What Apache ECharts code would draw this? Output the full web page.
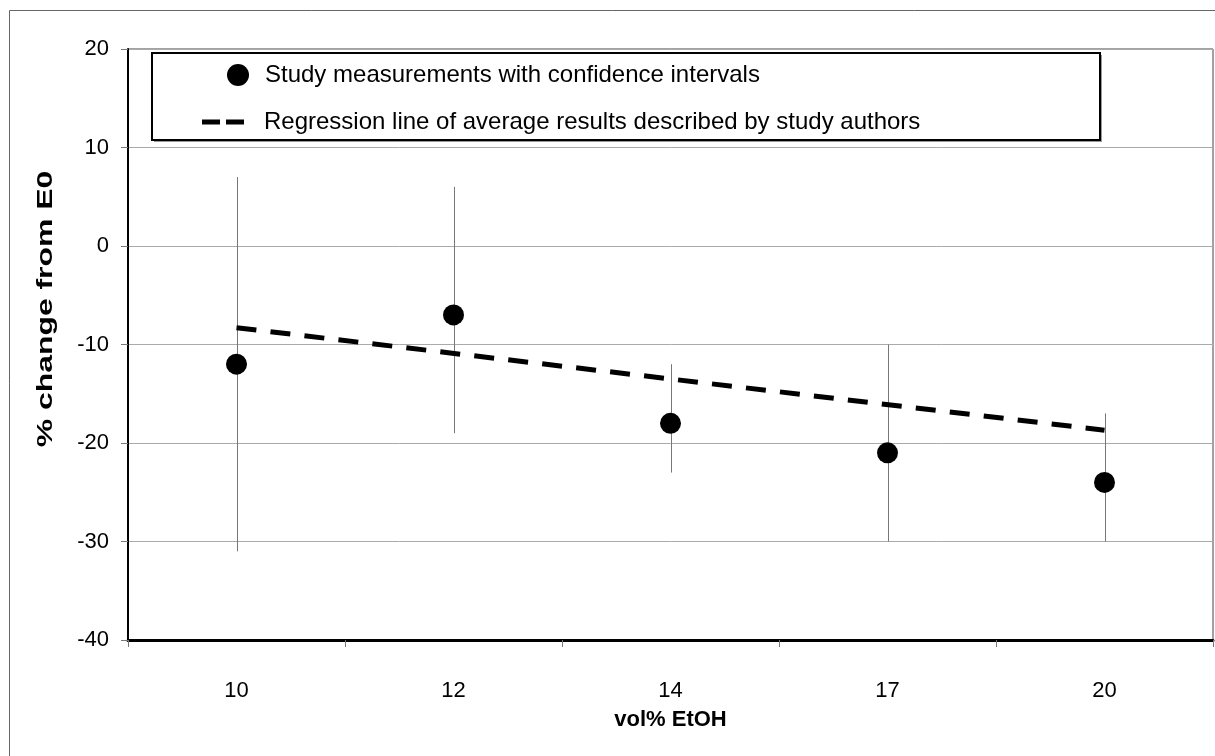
<!DOCTYPE html>
<html><head><meta charset="utf-8">
<script src="https://cdn.jsdelivr.net/npm/echarts@6/dist/echarts.min.js"></script>
<style>html,body{margin:0;padding:0;background:#fff}#c{width:1215px;height:756px}</style>
</head><body><div id="c"></div>
<script>
const categories = ['10', '12', '14', '17', '20'];
const measured = [-12, -7, -18, -21, -24];
const ciLow = [-31, -19, -23, -30, -30];
const ciHigh = [7, 6, -12, -10, -17];
const regressionStart = -8.3;
const regressionEnd = -18.7;
const yTicks = { min: -40, max: 20, interval: 10 };
const seriesNames = ['Study measurements with confidence intervals', 'Regression line of average results described by study authors'];
const yTitle = '% change from E0';
const xTitle = 'vol% EtOH';

const FONT = 'Liberation Sans, Arial, sans-serif';
const chart = echarts.init(document.getElementById('c'));
chart.setOption({
  animation: false,
  backgroundColor: '#fff',
  grid: { left: 128, right: 2, top: 49, bottom: 116, show: true, borderColor: '#444', borderWidth: 1 },
  graphic: [
    { type: 'rect', z: -10, shape: { x: 9.5, y: 10.5, width: 1300, height: 800 }, style: { fill: 'none', stroke: '#666', lineWidth: 1 } },
    { type: 'rect', z: 3, shape: { x: 154, y: 55, width: 948, height: 87 }, style: { fill: '#999' } },
    { type: 'rect', z: 3, shape: { x: 152, y: 53, width: 948, height: 87 }, style: { fill: '#fff', stroke: '#000', lineWidth: 2 } },
    { type: 'text', z: 5, x: 46, y: 309, rotation: Math.PI / 2, scaleX: 1.45,
      style: { text: yTitle, font: 'bold 22px Liberation Sans, Arial, sans-serif', fill: '#000', align: 'center', verticalAlign: 'middle' } }
  ],
  legend: [
    { data: [{ name: seriesNames[0], icon: 'circle', itemStyle: { color: '#000', opacity: 1 } }], left: 222, top: 58, itemWidth: 24, itemHeight: 22, z: 5,
      textStyle: { fontFamily: FONT, fontSize: 24, color: '#000', padding: [0, 0, 0, 10] } },
    { data: [{ name: seriesNames[1], icon: 'path://M0,0h18v5h-18zM24,0h18v5h-18z', itemStyle: { color: '#000', opacity: 1 } }], left: 197, top: 105, itemWidth: 42, itemHeight: 22, z: 5,
      textStyle: { fontFamily: FONT, fontSize: 24, color: '#000', padding: [0, 0, 0, 15] } }
  ],
  xAxis: {
    type: 'category', data: categories, boundaryGap: true,
    name: xTitle, nameLocation: 'middle', nameGap: 69,
    nameTextStyle: { fontFamily: FONT, fontSize: 22, fontWeight: 'bold', color: '#000' },
    axisLine: { onZero: false, lineStyle: { color: '#000', width: 3 } },
    axisTick: { show: true, alignWithLabel: false, length: 7, lineStyle: { color: '#777' } },
    axisLabel: { fontFamily: FONT, fontSize: 22, color: '#000', margin: 40 },
    splitLine: { show: false }
  },
  yAxis: {
    type: 'value', min: yTicks.min, max: yTicks.max, interval: yTicks.interval,
    axisLine: { show: true, lineStyle: { color: '#000', width: 2 } },
    axisTick: { show: true, length: 7, lineStyle: { color: '#777' } },
    axisLabel: { fontFamily: FONT, fontSize: 22, color: '#000', margin: 19 },
    splitLine: { show: true, lineStyle: { color: '#aaa', width: 1 } }
  },
  series: [
    {
      type: 'custom', name: 'ci', silent: true, z: 2,
      data: categories.map((c, i) => [i, ciLow[i], ciHigh[i]]),
      encode: { x: 0, y: [1, 2] },
      renderItem: function (params, api) {
        const lo = api.coord([api.value(0), api.value(1)]);
        const hi = api.coord([api.value(0), api.value(2)]);
        const x = Math.round(lo[0]) + 0.5;
        return { type: 'line', shape: { x1: x, y1: lo[1], x2: x, y2: hi[1] }, style: { stroke: '#777', lineWidth: 1 } };
      }
    },
    {
      type: 'scatter', name: seriesNames[0], z: 4,
      data: measured, symbol: 'circle', symbolSize: 21,
      itemStyle: { color: '#000', opacity: 1 }
    },
    {
      type: 'line', name: seriesNames[1], z: 3,
      data: [[categories[0], regressionStart], [categories[4], regressionEnd]],
      symbol: 'none', showSymbol: false,
      itemStyle: { color: '#000' },
      lineStyle: { color: '#000', width: 5, type: [20, 14.2], cap: 'butt' }
    }
  ]
});
</script></body></html>
